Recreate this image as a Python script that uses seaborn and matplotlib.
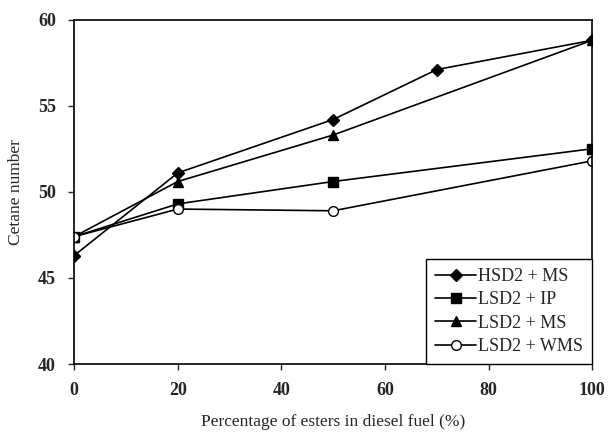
import pandas as pd
import matplotlib.pyplot as plt
import seaborn as sns

# Data
x_hsd_ms = [0, 20, 50, 70, 100]
y_hsd_ms = [46.3, 51.1, 54.2, 57.1, 58.8]

x_lsd = [0, 20, 50, 100]
y_lsd_ip = [47.4, 49.3, 50.6, 52.5]
y_lsd_ms = [47.4, 50.6, 53.3, 58.8]
y_lsd_wms = [47.4, 49.0, 48.9, 51.8]

series = [
    ("HSD2 + MS", x_hsd_ms, y_hsd_ms, "D", "black", 6),
    ("LSD2 + IP", x_lsd, y_lsd_ip, "s", "black", 7),
    ("LSD2 + MS", x_lsd, y_lsd_ms, "^", "black", 7),
    ("LSD2 + WMS", x_lsd, y_lsd_wms, "o", "white", 7),
]

sns.set_style("ticks")
plt.rcParams['font.family'] = ['Liberation Serif', 'DejaVu Serif']

fig = plt.figure(figsize=(6.08, 4.36), dpi=100)
ax = fig.add_axes([0.122, 0.165, 0.852, 0.79])

for name, xs, ys, mk, fc, ms in series:
    df = pd.DataFrame({"x": xs, "y": ys})
    sns.lineplot(data=df, x="x", y="y", ax=ax, color="black", linewidth=1.2,
                 marker=mk, markersize=ms, markerfacecolor=fc,
                 markeredgecolor="black", markeredgewidth=1.0, label=name)

ax.set_xlim(0, 100)
ax.set_ylim(40, 60)
ax.set_xticks([0, 20, 40, 60, 80, 100])
ax.set_yticks([40, 45, 50, 55, 60])
ax.tick_params(direction="out", length=4, width=1, labelsize=13, pad=9)
for lbl in ax.get_xticklabels() + ax.get_yticklabels():
    lbl.set_fontweight("bold")
for s in ax.spines.values():
    s.set_visible(True)
    s.set_linewidth(1.2)
    s.set_color("black")

ax.set_xlabel("Percentage of esters in diesel fuel (%)", fontsize=12.5, labelpad=11)
ax.set_ylabel("Cetane number", fontsize=12.5, labelpad=10)

leg = ax.legend(loc="lower right", bbox_to_anchor=(1, 0), borderaxespad=0,
                fontsize=13, frameon=True, fancybox=False, handlelength=2.3,
                handletextpad=0.1, labelspacing=0.35, borderpad=0.5)
leg.get_frame().set_edgecolor("black")
leg.get_frame().set_linewidth(1.0)
leg.get_frame().set_alpha(1)

fig.savefig("out.png", dpi=100)
